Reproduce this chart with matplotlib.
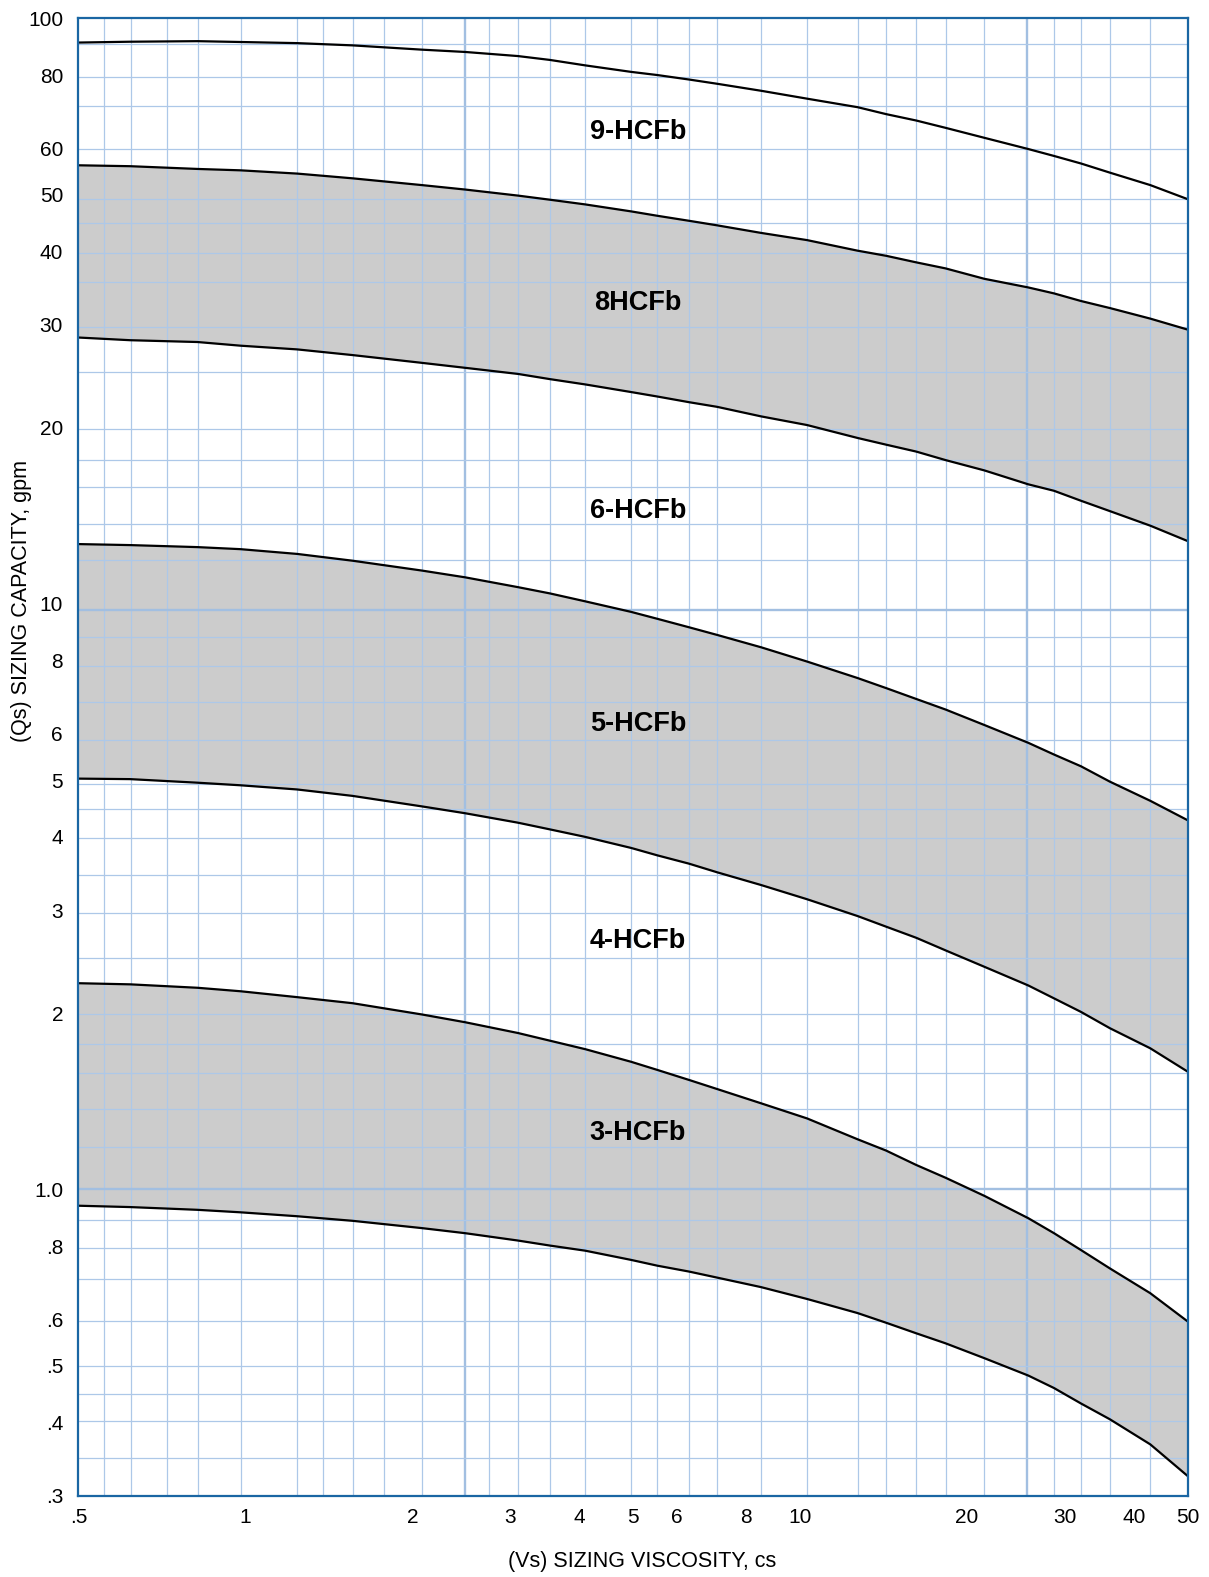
import matplotlib.pyplot as plt

plt.rcParams["font.family"] = ["Liberation Sans", "DejaVu Sans"]

# viscosity points (cs) where the curves were read
VISCOSITY = [0.5, 0.62, 0.82, 0.98, 1.24, 1.56, 2.08, 2.49, 3.1, 3.54, 4.1, 4.96, 5.53, 6.31,
             7.09, 8.51, 10.3, 12.7, 14.3, 16.2, 18.3, 21.5, 25.8, 28.7, 32.1, 36.2, 42.8, 50]

# sizing capacity (gpm) along each curve
CAP_9_TOP = [90.9, 91.2, 91.4, 91.1, 90.7, 89.9, 88.4, 87.6, 86.2, 84.9, 83.1, 81.0, 80.0, 78.6,
             77.3, 75.2, 72.9, 70.5, 68.6, 66.9, 65.0, 62.5, 59.8, 58.2, 56.5, 54.5, 51.9, 49.1]
CAP_8_TOP = [56.1, 55.9, 55.3, 55.0, 54.3, 53.3, 51.9, 51.0, 49.8, 49.0, 48.1, 46.8, 46.0, 45.1,
             44.3, 43.0, 41.8, 40.1, 39.3, 38.3, 37.4, 35.9, 34.7, 33.9, 32.9, 32.0, 30.7, 29.4]
CAP_8_BOTTOM = [28.5, 28.2, 28.0, 27.6, 27.2, 26.6, 25.8, 25.3, 24.7, 24.2, 23.7, 23.0, 22.6, 22.1,
                21.7, 20.9, 20.2, 19.2, 18.7, 18.2, 17.6, 16.9, 16.0, 15.6, 15.0, 14.4, 13.6, 12.8]
CAP_5_TOP = [12.65, 12.6, 12.5, 12.4, 12.17, 11.85, 11.4, 11.1, 10.68, 10.42, 10.1, 9.69, 9.43,
             9.12, 8.85, 8.43, 7.97, 7.47, 7.18, 6.88, 6.60, 6.21, 5.79, 5.53, 5.28, 4.97, 4.61,
             4.27]
CAP_5_BOTTOM = [5.03, 5.02, 4.95, 4.90, 4.82, 4.70, 4.51, 4.39, 4.23, 4.12, 4.00, 3.83, 3.72, 3.60,
                3.48, 3.31, 3.13, 2.93, 2.81, 2.69, 2.56, 2.40, 2.23, 2.12, 2.01, 1.885, 1.742, 1.589]
CAP_3_TOP = [2.25, 2.24, 2.21, 2.18, 2.13, 2.08, 1.99, 1.93, 1.85, 1.795, 1.736, 1.652, 1.60, 1.538,
             1.484, 1.403, 1.322, 1.218, 1.165, 1.101, 1.047, 0.975, 0.893, 0.842, 0.788, 0.733,
             0.665, 0.595]
CAP_3_BOTTOM = [0.938, 0.933, 0.923, 0.914, 0.900, 0.884, 0.859, 0.842, 0.818, 0.802, 0.786, 0.758,
                0.741, 0.724, 0.707, 0.681, 0.650, 0.615, 0.592, 0.568, 0.546, 0.515, 0.481, 0.458,
                0.431, 0.405, 0.367, 0.324]

BAND_NAMES = ["9-HCFb", "8HCFb", "6-HCFb", "5-HCFb", "4-HCFb", "3-HCFb"]
BAND_LABEL_X = 5.1
BAND_LABEL_Y = [64, 32.7, 14.4, 6.23, 2.66, 1.25]

# chart paper grid (not aligned to the labelled ticks)
GRID_X = [0.557, 0.623, 0.721, 0.822, 0.982, 1.24, 1.383, 1.564, 1.782, 2.082, 2.75, 3.10, 3.54,
          4.10, 4.96, 5.53, 6.31, 7.09, 8.51, 10.3, 12.7, 14.3, 16.2, 18.3, 21.5, 28.7, 32.1,
          36.2, 42.8]
GRID_X_HEAVY = [2.49, 25.7]
GRID_Y = [90.3, 79.5, 70.8, 59.9, 49.1, 44.7, 39.8, 35.4, 29.7, 24.9, 19.9, 17.6, 15.85, 13.7,
          11.9, 8.79, 7.83, 6.79, 5.86, 4.93, 4.47, 3.98, 3.44, 2.97, 2.48, 1.996, 1.77, 1.58,
          1.37, 1.18, 0.888, 0.794, 0.704, 0.596, 0.500, 0.448, 0.402, 0.348]
GRID_Y_HEAVY = [9.76, 1.0]

X_TICKS = [0.5, 1, 2, 3, 4, 5, 6, 8, 10, 20, 30, 40, 50]
X_TICK_LABELS = [".5", "1", "2", "3", "4", "5", "6", "8", "10", "20", "30", "40", "50"]
Y_TICKS = [100, 80, 60, 50, 40, 30, 20, 10, 8, 6, 5, 4, 3, 2, 1, 0.8, 0.6, 0.5, 0.4, 0.3]
Y_TICK_LABELS = ["100", "80", "60", "50", "40", "30", "20", "10", "8", "6", "5", "4", "3", "2",
                 "1.0", ".8", ".6", ".5", ".4", ".3"]

BLUE = "#1a66a3"
GRID_BLUE = "#adc8e8"


def main() -> None:
    fig = plt.figure(figsize=(12.09, 15.77), dpi=100)
    ax = fig.add_axes([0.0648, 0.0516, 0.9176, 0.9368])
    ax.set_xscale("log")
    ax.set_yscale("log")

    # shaded bands
    for lower, upper in [(CAP_8_BOTTOM, CAP_8_TOP), (CAP_5_BOTTOM, CAP_5_TOP),
                         (CAP_3_BOTTOM, CAP_3_TOP)]:
        ax.fill_between(VISCOSITY, lower, upper, color="#cccccc", linewidth=0, zorder=1)

    for gx in GRID_X:
        ax.axvline(gx, color=GRID_BLUE, linewidth=0.9, zorder=2)
    for gx in GRID_X_HEAVY:
        ax.axvline(gx, color="#a2bfe1", linewidth=1.7, zorder=2)
    for gy in GRID_Y:
        ax.axhline(gy, color=GRID_BLUE, linewidth=0.9, zorder=2)
    for gy in GRID_Y_HEAVY:
        ax.axhline(gy, color="#a2bfe1", linewidth=1.7, zorder=2)

    for curve in [CAP_9_TOP, CAP_8_TOP, CAP_8_BOTTOM, CAP_5_TOP, CAP_5_BOTTOM, CAP_3_TOP,
                  CAP_3_BOTTOM]:
        ax.plot(VISCOSITY, curve, color="black", linewidth=1.6, zorder=3,
                solid_joinstyle="round")

    for name, ly in zip(BAND_NAMES, BAND_LABEL_Y):
        ax.text(BAND_LABEL_X, ly, name, fontsize=19.5, fontweight="bold",
                ha="center", va="center", zorder=4)

    ax.set_xlim(0.5, 50)
    ax.set_ylim(0.3, 100)
    ax.set_xticks(X_TICKS)
    ax.set_xticklabels(X_TICK_LABELS)
    ax.set_yticks(Y_TICKS)
    ax.set_yticklabels(Y_TICK_LABELS)
    ax.minorticks_off()
    ax.tick_params(axis="both", length=0, labelsize=15, colors="black")
    ax.tick_params(axis="x", pad=9)
    ax.tick_params(axis="y", pad=11)

    for spine in ax.spines.values():
        spine.set_color(BLUE)
        spine.set_linewidth(1.6)
        spine.set_zorder(5)

    ax.set_xlabel("(Vs) SIZING VISCOSITY, cs", fontsize=15.5, va="center")
    ax.xaxis.set_label_coords(0.5086, -0.0447)
    ax.set_ylabel("(Qs) SIZING CAPACITY, gpm", fontsize=15.5, va="center")
    ax.yaxis.set_label_coords(-0.051, 0.6053)

    fig.savefig("out.png", dpi=100)


if __name__ == "__main__":
    main()
